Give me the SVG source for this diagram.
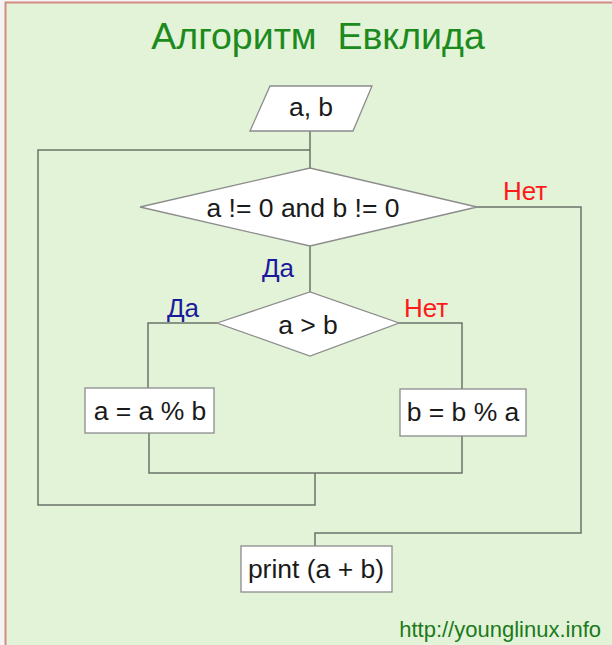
<svg xmlns="http://www.w3.org/2000/svg" width="612" height="645" viewBox="0 0 612 645">
<style>
.node{fill:#ffffff;stroke:#8c8c8c;stroke-width:1.3}
.t{font-family:"Liberation Sans",Arial,sans-serif;font-size:26.5px;fill:#1a1a1a;text-anchor:middle}
.lbl{font-family:"Liberation Sans",Arial,sans-serif;font-size:26px}
.yes{fill:#1a1a9a}
.no{fill:#ff1a1a}
.conn path{fill:none;stroke:#6b7369;stroke-width:1.5}
</style>
<rect x="0" y="0" width="612" height="645" fill="#f4f4f4"/>
<rect x="6" y="3" width="606" height="642" fill="#e2f3d8"/>
<path d="M5.5,645 V2.5 H612" fill="none" stroke="#d48a84" stroke-width="2"/>
<text x="318" y="49" font-family="Liberation Sans,Arial,sans-serif" font-size="37.5" fill="#1c8a1c" text-anchor="middle" xml:space="preserve">Алгоритм  Евклида</text>
<g class="conn">
<path d="M310,131 V168"/>
<path d="M310,150 H38 V505 H315 V473"/>
<path d="M310,246 V292"/>
<path d="M217,323 H148 V388"/>
<path d="M399,323 H462 V389"/>
<path d="M149,433 V473 H462 V436"/>
<path d="M477,207 H581 V533 H315 V546"/>
</g>
<g id="input"><polygon class="node" points="270,86 372,86 353,131 250,131"/><text class="t" x="311" y="116">a, b</text></g>
<g id="cond1"><polygon class="node" points="140,207 310,168 477,207 310,246"/><text class="t" x="303" y="217">a != 0 and b != 0</text></g>
<g id="cond2"><polygon class="node" points="217,323 310,292 399,323 310,356"/><text class="t" x="308" y="334">a &gt; b</text></g>
<g id="assignA"><rect class="node" x="85" y="388" width="129" height="45"/><text class="t" x="150" y="420">a = a % b</text></g>
<g id="assignB"><rect class="node" x="400" y="389" width="126" height="47"/><text class="t" x="463" y="421">b = b % a</text></g>
<g id="print"><rect class="node" x="241" y="546" width="151" height="46"/><text class="t" x="316" y="578">print (a + b)</text></g>
<g id="labels">
<text class="lbl no" x="503" y="200">Нет</text>
<text class="lbl yes" x="262" y="277">Да</text>
<text class="lbl yes" x="167" y="317">Да</text>
<text class="lbl no" x="404" y="317">Нет</text>
</g>
<text x="601" y="637" font-family="Liberation Sans,Arial,sans-serif" font-size="22" fill="#1c7a1c" text-anchor="end">http://younglinux.info</text>
</svg>
